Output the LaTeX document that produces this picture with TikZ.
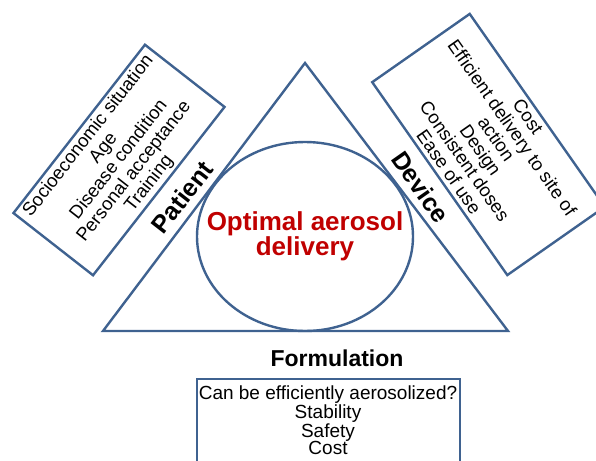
\documentclass[tikz,border=0pt]{standalone}
\usepackage{fontspec}
\setmainfont{Liberation Sans}
\usetikzlibrary{shapes.geometric}
\definecolor{edgeblue}{HTML}{3F6290}
\definecolor{darkred}{HTML}{C00000}
\tikzset{
  outline/.style={draw=edgeblue, line width=2.4pt},
  listbox/.style={outline, align=center, inner sep=0pt,
    font=\fontsize{18.5}{19.3}\selectfont},
  sidelabel/.style={font=\fontsize{25}{25}\selectfont\bfseries, inner sep=0pt},
}
\begin{document}
\begin{tikzpicture}[x=1pt, y=-1pt]
\useasboundingbox (0,0) rectangle (596,460);
\clip (0,0) rectangle (596,460);
% triangle
\coordinate (apex) at (305,63);
\coordinate (bl) at (103,331);
\coordinate (br) at (508,331);
\draw[outline, line join=miter] (apex) -- (bl) -- (br) -- cycle;
% ellipse
\node[outline, ellipse, minimum width=216pt, minimum height=189pt, inner sep=0pt]
  (core) at (305,236.5) {};
\node[align=center, inner sep=0pt, text=darkred, font=\fontsize{26}{25}\selectfont\bfseries]
  (coretext) at (core.center) {Optimal aerosol\\delivery};
% patient box
\node[listbox, rotate=52, minimum width=213.6pt, minimum height=101pt]
  (patbox) at (119,160)
  {Socioeconomic situation\\Age\\Disease condition\\Personal acceptance\\Training};
\node[sidelabel, rotate=52] (patient) at (182,197) {Patient};
% device box
\node[listbox, rotate=-55, minimum width=235.5pt, minimum height=119pt]
  (devbox) at (488.5,144.5)
  {Cost\\Efficient delivery to site of\\action\\Design\\Consistent doses\\Ease of use};
\node[sidelabel, rotate=-55] (device) at (421,187) {Device};
% formulation
\node[sidelabel, font=\fontsize{23}{23}\selectfont\bfseries] (formulation) at (337,358) {Formulation};
\node[outline, anchor=north west, minimum width=263pt, minimum height=110pt, inner sep=0pt]
  (formbox) at (196,378) {};
\node[align=center, inner sep=0pt, font=\fontsize{19}{17.5}\selectfont]
  (formtext) at (328,420.5)
  {Can be efficiently aerosolized?\\Stability\\Safety\\Cost};
\end{tikzpicture}
\end{document}
